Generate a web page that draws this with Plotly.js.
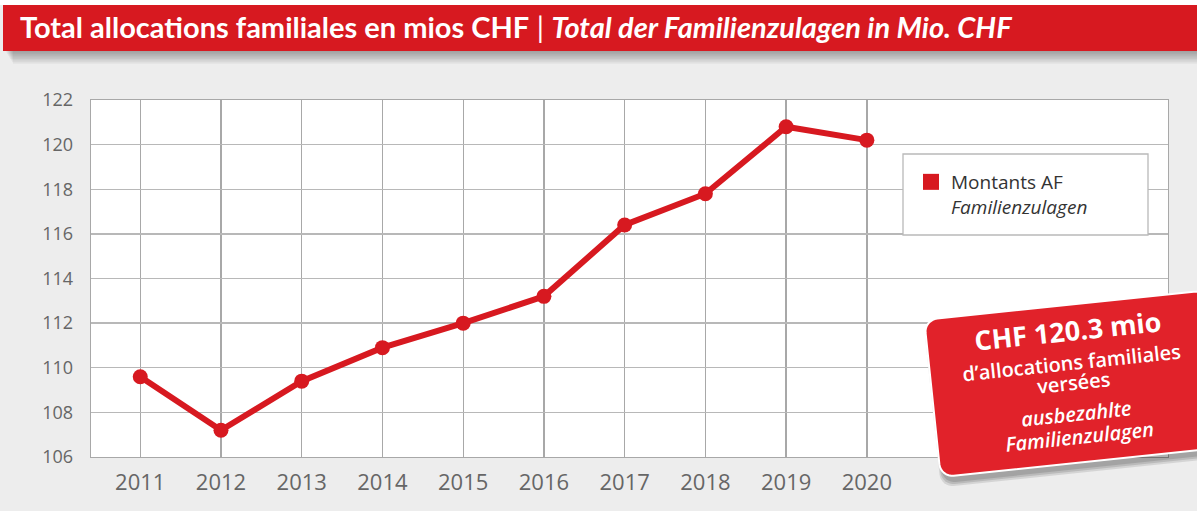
<!DOCTYPE html>
<html>
<head>
<meta charset="utf-8">
<script src="https://cdn.plot.ly/plotly-3.0.1.min.js"></script>
<style>
  html, body { margin: 0; padding: 0; background: #ededed; }
  #chart { width: 1197px; height: 511px; }
</style>
</head>
<body>
<div id="chart"></div>
<script>
// ---- data ----
const years = [2011, 2012, 2013, 2014, 2015, 2016, 2017, 2018, 2019, 2020];
const amounts = [109.6, 107.2, 109.4, 110.9, 112.0, 113.2, 116.4, 117.8, 120.8, 120.2];
const yTicks = [106, 108, 110, 112, 114, 116, 118, 120, 122];
const seriesName = 'Montants AF<br><i>Familienzulagen</i>';
const titleFr = 'Total allocations familiales en mios CHF';
const titleDe = 'Total der Familienzulagen in Mio. CHF';
const calloutLines = ['CHF 120.3 mio', 'd\u2019allocations familiales', 'versées', 'ausbezahlte', 'Familienzulagen'];

// ---- layout geometry (pixels) ----
const W = 1197, H = 511;
const M = {l: 91, r: 29, t: 100, b: 54};
const PW = W - M.l - M.r, PH = H - M.t - M.b;
const px = x => (x - M.l) / PW;
const py = y => (M.t + PH - y) / PH;

const RED = '#d71920';
const RED2 = '#e1222a';

// rotated rounded rectangle path in paper coords
function roundRectPath(cx, cy, w, h, r, deg, dx, dy) {
  const t = deg * Math.PI / 180;
  const c = Math.cos(t), s = Math.sin(t);
  const pts = [];
  const corners = [
    [w/2 - r, -h/2 + r, -90], [w/2 - r, h/2 - r, 0],
    [-w/2 + r, h/2 - r, 90], [-w/2 + r, -h/2 + r, 180]
  ];
  corners.forEach(([ox, oy, a0]) => {
    for (let k = 0; k <= 8; k++) {
      const a = (a0 + k * 90 / 8) * Math.PI / 180;
      pts.push([ox + r * Math.cos(a), oy + r * Math.sin(a)]);
    }
  });
  return pts.map((p, i) => {
    const X = cx + dx + p[0] * c - p[1] * s;
    const Y = cy + dy + p[0] * s + p[1] * c;
    return (i ? 'L' : 'M') + px(X).toFixed(5) + ',' + py(Y).toFixed(5);
  }).join(' ') + ' Z';
}

const shapes = [];
// white strip on top
shapes.push({type: 'rect', xref: 'paper', yref: 'paper', x0: px(-5), x1: px(W + 5), y0: py(5), y1: py(-5),
  fillcolor: '#ffffff', line: {width: 0}, layer: 'below'});
// title bar shadow
for (let i = 0; i < 8; i++) {
  shapes.push({type: 'rect', xref: 'paper', yref: 'paper', x0: px(6 + i), x1: px(W + 5), y0: py(51 + (i + 1) * 1.6), y1: py(50),
    fillcolor: 'rgba(0,0,0,0.045)', line: {width: 0}, layer: 'below'});
}
// title bar
shapes.push({type: 'rect', xref: 'paper', yref: 'paper', x0: px(3), x1: px(W + 5), y0: py(51), y1: py(5),
  fillcolor: RED, line: {width: 0}, layer: 'below'});
// legend box
shapes.push({type: 'rect', xref: 'paper', yref: 'paper', x0: px(903), x1: px(1148), y0: py(235), y1: py(154),
  fillcolor: '#ffffff', line: {color: '#b9b9b9', width: 1.3}, layer: 'above'});

// callout box
const C = {x: 1073.7, y: 383.7, w: 284, h: 158, r: 13, a: -6};
[[2, 9, 0.10], [3, 7, 0.12], [4, 5, 0.12]].forEach(([dx, dy, o]) => {
  shapes.push({type: 'path', xref: 'paper', yref: 'paper',
    path: roundRectPath(C.x, C.y, C.w + 4, C.h + 2, C.r, C.a, dx, dy),
    fillcolor: 'rgba(0,0,0,' + o + ')', line: {width: 0}, layer: 'above'});
});
shapes.push({type: 'path', xref: 'paper', yref: 'paper',
  path: roundRectPath(C.x, C.y, C.w, C.h, C.r, C.a, 0, 0),
  fillcolor: RED2, line: {color: '#ffffff', width: 2}, layer: 'above'});

// callout text
const calloutY = [-53, -21, -1, 30, 53];
const calloutStyle = [
  {size: 27, weight: 'bold', pre: '', post: ''},
  {size: 20, weight: 600, pre: '', post: ''},
  {size: 20, weight: 600, pre: '', post: ''},
  {size: 20, weight: 600, pre: '<i>', post: '</i>'},
  {size: 20, weight: 600, pre: '<i>', post: '</i>'}
];
const ta = C.a * Math.PI / 180;
const annotations = calloutLines.map((txt, i) => {
  const ly = calloutY[i];
  const X = C.x - ly * Math.sin(ta);
  const Y = C.y + ly * Math.cos(ta);
  const st = calloutStyle[i];
  return {xref: 'paper', yref: 'paper', x: px(X), y: py(Y), xanchor: 'center', yanchor: 'middle',
    text: st.pre + txt + st.post, showarrow: false, textangle: C.a,
    font: {family: 'Open Sans, sans-serif', size: st.size, color: '#ffffff', weight: st.weight}};
});

const traces = [
  {x: years, y: amounts, type: 'scatter', mode: 'lines+markers', name: seriesName, showlegend: false,
   line: {color: RED, width: 6}, marker: {color: RED, size: 15}, cliponaxis: false},
  {x: [null], y: [null], type: 'scatter', mode: 'markers', name: seriesName, showlegend: true,
   marker: {color: RED, size: 18, symbol: 'square'}}
];

const layout = {
  width: W, height: H,
  margin: M,
  paper_bgcolor: '#ededed',
  plot_bgcolor: '#ffffff',
  font: {family: 'Open Sans, sans-serif', color: '#666666'},
  title: {
    text: '<b>' + titleFr + '</b> <span style="font-weight:normal">|</span> <b><i>' + titleDe + '</i></b>',
    font: {family: 'Lato, sans-serif', size: 29, color: '#ffffff'},
    xref: 'container', yref: 'container', x: 20 / W, y: 1 - 28 / H, xanchor: 'left', yanchor: 'middle'
  },
  xaxis: {
    range: [2010.39, 2023.73], tickvals: years, ticktext: years.map(String),
    showgrid: true, gridcolor: '#a8a8a8', gridwidth: 1.3, zeroline: false,
    showline: true, linecolor: '#a8a8a8', linewidth: 1.3, mirror: true,
    ticks: 'outside', ticklen: 5, tickcolor: 'rgba(0,0,0,0)',
    tickfont: {size: 22, color: '#666666'}, fixedrange: true
  },
  yaxis: {
    range: [106, 122], tickvals: yTicks, ticktext: yTicks.map(String),
    showgrid: true, gridcolor: '#b8b8b8', gridwidth: 1.3, zeroline: false,
    showline: true, linecolor: '#a8a8a8', linewidth: 1.3, mirror: true,
    ticks: 'outside', ticklen: 13, tickcolor: 'rgba(0,0,0,0)',
    tickfont: {size: 18, color: '#666666'}, fixedrange: true
  },
  showlegend: true,
  legend: {
    x: px(911), y: py(163), xanchor: 'left', yanchor: 'top',
    bgcolor: 'rgba(0,0,0,0)', borderwidth: 0, valign: 'top',
    font: {size: 19, color: '#333333', family: 'Open Sans, sans-serif'}
  },
  shapes: shapes,
  annotations: annotations
};

Plotly.newPlot('chart', traces, layout, {displayModeBar: false, staticPlot: true});
</script>
</body>
</html>
